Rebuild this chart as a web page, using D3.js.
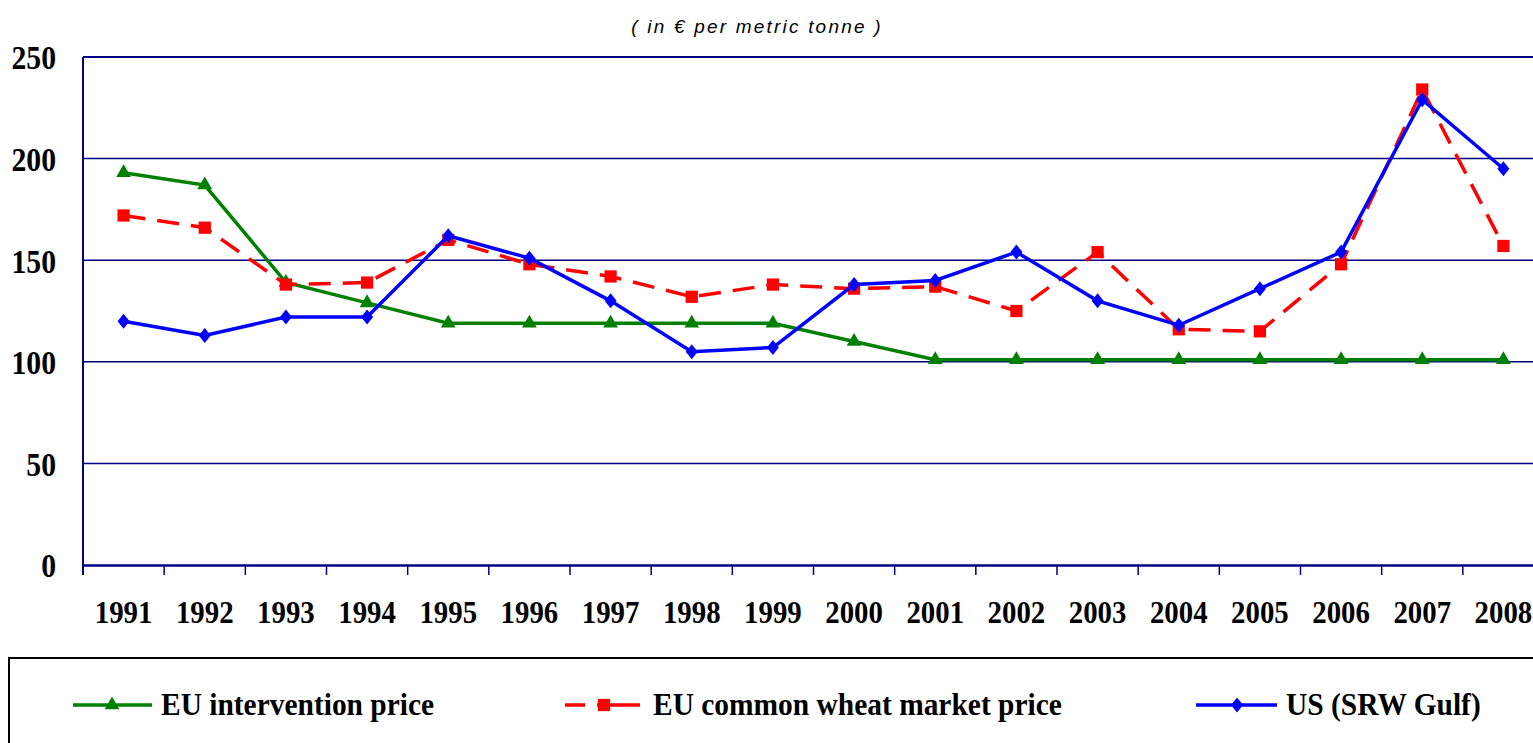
<!DOCTYPE html>
<html>
<head>
<meta charset="utf-8">
<script src="https://cdn.jsdelivr.net/npm/d3@7"></script>
<style>
  body { margin: 0; background: #fff; }
  svg { display: block; }
</style>
</head>
<body>
<svg id="chart" width="1533" height="743"></svg>
<script>
// Wheat prices, € per metric tonne
const years = ["1991","1992","1993","1994","1995","1996","1997","1998","1999",
               "2000","2001","2002","2003","2004","2005","2006","2007","2008"];
const interventionPrice = [193,187,139,129,119,119,119,119,119,110,101,101,101,101,101,101,101,101];
const marketPrice = [172,166,138,139,160,148,142,132,138,136,137,125,154,116,115,148,234,157];
const usPrice = [120,113,122,122,162,151,130,105,107,138,140,154,130,118,136,154,229,195];
const yTicks = [0, 50, 100, 150, 200, 250];

const svg = d3.select("#chart");
const navy = "#000080";
const serif = "'Liberation Serif', 'Times New Roman', serif";

const x = d3.scaleBand().domain(years).range([83, 1544]);
const y = d3.scaleLinear().domain([0, 250]).range([565, 57]);

// squeeze text horizontally, the original looks condensed
function condense(sel, k) {
  sel.each(function() {
    const len = this.getComputedTextLength();
    d3.select(this)
      .attr("textLength", len * k)
      .attr("lengthAdjust", "spacingAndGlyphs");
  });
}

// title
svg.append("text")
  .attr("x", 757).attr("y", 33)
  .attr("text-anchor", "middle")
  .style("font-family", "'Liberation Sans', Arial, sans-serif")
  .style("font-style", "italic")
  .style("font-size", "19px")
  .style("letter-spacing", "2.2px")
  .text("( in € per metric tonne )");

// gridlines
svg.append("g")
  .selectAll("line")
  .data(yTicks.filter(d => d > 0))
  .enter().append("line")
  .attr("x1", 83).attr("x2", 1544)
  .attr("y1", d => y(d)).attr("y2", d => y(d))
  .attr("stroke", navy)
  .attr("stroke-width", d => d === 250 ? 2 : 1.5);

// y axis
const yAxis = svg.append("g")
  .attr("transform", "translate(83,0)")
  .call(d3.axisLeft(y).tickValues(yTicks).tickSize(0).tickPadding(27));
yAxis.select(".domain").remove();
yAxis.append("line")
  .attr("x1", 0).attr("x2", 0).attr("y1", 57).attr("y2", 575)
  .attr("stroke", navy).attr("stroke-width", 2);
yAxis.selectAll("text")
  .attr("dy", "0.36em")
  .style("font-family", serif)
  .style("font-weight", "bold")
  .style("font-size", "33px")
  .attr("fill", "#000")
  .call(condense, 0.9);

// x axis
const xAxis = svg.append("g")
  .attr("transform", "translate(0,565)")
  .call(d3.axisBottom(x).tickSize(0).tickPadding(35));
xAxis.select(".domain")
  .attr("stroke", navy).attr("stroke-width", 2.5);
xAxis.selectAll("text")
  .style("font-family", serif)
  .style("font-weight", "bold")
  .style("font-size", "32px")
  .attr("fill", "#000")
  .call(condense, 0.9);
xAxis.selectAll(".tickmark")
  .data(years.slice(1))
  .enter().append("line")
  .attr("x1", d => x(d)).attr("x2", d => x(d))
  .attr("y1", 0).attr("y2", 10)
  .attr("stroke", navy).attr("stroke-width", 1.5);

// series
const cx = d => x(d.year) + x.bandwidth() / 2;
const diamondPath = (w, h) => `M0,${-h / 2}L${w / 2},0L0,${h / 2}L${-w / 2},0Z`;

const series = [
  { name: "EU intervention price", values: interventionPrice, color: "#008000",
    dash: null, marker: d3.symbol().type(d3.symbolTriangle).size(95)() },
  { name: "EU common wheat market price", values: marketPrice, color: "#ff0000",
    dash: "22,12", marker: d3.symbol().type(d3.symbolSquare).size(150)() },
  { name: "US (SRW Gulf)", values: usPrice, color: "#0000ff",
    dash: null, marker: diamondPath(12, 15) }
];

const line = d3.line().x(cx).y(d => y(d.value));

series.forEach(s => {
  const pts = s.values.map((v, i) => ({ year: years[i], value: v }));
  const g = svg.append("g");
  g.append("path")
    .datum(pts)
    .attr("fill", "none")
    .attr("stroke", s.color)
    .attr("stroke-width", 3.5)
    .attr("stroke-dasharray", s.dash)
    .attr("d", line);
  g.selectAll("path.pt")
    .data(pts)
    .enter().append("path")
    .attr("class", "pt")
    .attr("transform", d => `translate(${cx(d)},${y(d.value)})`)
    .attr("d", s.marker)
    .attr("fill", s.color);
});

// legend
svg.append("rect")
  .attr("x", 9).attr("y", 658)
  .attr("width", 1560).attr("height", 120)
  .attr("fill", "none")
  .attr("stroke", "#000")
  .attr("stroke-width", 2);

const legendPos = [
  { lx1: 73, lx2: 152, mx: 112, tx: 161 },
  { lx1: 565, lx2: 640, mx: 604, tx: 653 },
  { lx1: 1196, lx2: 1277, mx: 1237, tx: 1286 }
];

series.forEach((s, i) => {
  const p = legendPos[i];
  const g = svg.append("g");
  g.append("line")
    .attr("x1", p.lx1).attr("x2", p.lx2)
    .attr("y1", 705).attr("y2", 705)
    .attr("stroke", s.color)
    .attr("stroke-width", 3.5)
    .attr("stroke-dasharray", s.dash ? "20,12,100" : null);
  g.append("path")
    .attr("transform", `translate(${p.mx},705)`)
    .attr("d", s.marker)
    .attr("fill", s.color);
  g.append("text")
    .attr("x", p.tx).attr("y", 715)
    .style("font-family", serif)
    .style("font-weight", "bold")
    .style("font-size", "32px")
    .text(s.name)
    .call(condense, 0.92);
});
</script>
</body>
</html>
